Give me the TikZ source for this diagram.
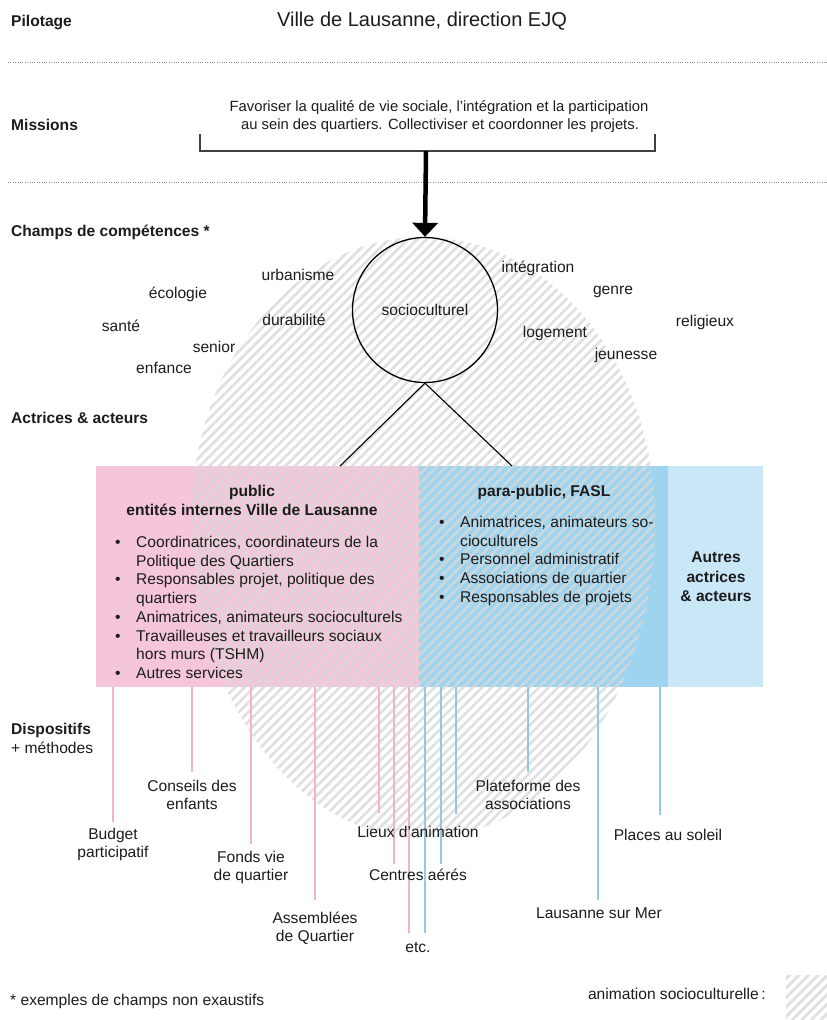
\documentclass[tikz,border=0pt]{standalone}
\usepackage{fontspec}
\setmainfont{Liberation Sans}
\usetikzlibrary{arrows.meta}
\definecolor{pinkc}{RGB}{245,198,219}
\definecolor{bluec}{RGB}{158,212,240}
\definecolor{lblue}{RGB}{202,231,248}
\definecolor{pinkl}{RGB}{240,180,205}
\definecolor{bluel}{RGB}{148,200,228}
\definecolor{hatchc}{RGB}{216,216,216}
\definecolor{txt}{RGB}{28,28,28}
\newcommand\bul{\makebox[21pt][l]{•}}
\newcommand\ind{\hspace*{21pt}}
\begin{document}
\begin{tikzpicture}[x=1pt,y=-1pt,
  font=\fontsize{15.6}{18.7}\selectfont,
  every node/.style={text=txt, inner sep=0},
  lbl/.style={anchor=west, font=\fontsize{15.6}{18.7}\selectfont\bfseries},
  ttl/.style={font=\fontsize{15.6}{18.7}\selectfont\bfseries},
  lab2/.style={anchor=north, align=center, font=\fontsize{15.6}{18.3}\selectfont},
  lst/.style={anchor=north west, align=left},
  pinkln/.style={draw=pinkl, line width=1.8},
  blueln/.style={draw=bluel, line width=1.8},
  hatchln/.style={draw=hatchc, line width=2.8, draw opacity=0.8},
  dotln/.style={draw=black!45, line width=0.6, dash pattern=on 0.8pt off 1.6pt},
  boxfill/.style={anchor=north west, minimum height=221, draw=none}]
\useasboundingbox (0,0) rectangle (827,1020);

% dotted separators
\draw[dotln] (8,62) -- (827,62);
\draw[dotln] (8,182) -- (827,182);

% coloured boxes
\node[boxfill, fill=pinkc, minimum width=323] (pub) at (96,466) {};
\node[boxfill, fill=bluec, minimum width=249] (para) at (419,466) {};
\node[boxfill, fill=lblue, minimum width=95] (autres) at (668,466) {};

% hatched egg-shaped area (animation socioculturelle)
\begin{scope}
  \clip (191,520) arc[start angle=180, end angle=360, x radius=232, y radius=283]
                  arc[start angle=0, end angle=180, x radius=232, y radius=318] -- cycle;
  \foreach \c in {0,...,120} \draw[hatchln] ({400+\c*9.5-850},850) -- ++(630,-630);
\end{scope}
% legend square
\begin{scope}
  \clip (786,975) rectangle (827,1020);
  \foreach \c in {0,...,10} \draw[hatchln] ({1755+\c*9.5-1020},1020) -- ++(70,-70);
\end{scope}

% vertical connectors (dispositifs)
\coordinate (p1) at (113,822);
\coordinate (p2) at (192,772);
\coordinate (p3) at (251,844);
\coordinate (p4) at (315,900);
\coordinate (p5) at (379,813);
\coordinate (p6) at (394,864);
\coordinate (p7) at (409,933);
\coordinate (b1) at (425,933);
\coordinate (b2) at (441,864);
\coordinate (b3) at (456,814);
\coordinate (b4) at (528,772);
\coordinate (b5) at (598,900);
\coordinate (b6) at (660,815);
\foreach \p in {p1,p2,p3,p4,p5,p6,p7} \draw[pinkln] (\p |- pub.south) -- (\p);
\foreach \p in {b1,b2,b3,b4,b5,b6} \draw[blueln] (\p |- para.south) -- (\p);

% header
\node[lbl] (pil) at (11,22) {Pilotage};
\node[font=\fontsize{20}{24}\selectfont] (title) at (422,21) {Ville de Lausanne, direction EJQ};

% missions
\node[lbl] (mis) at (11,125) {Missions};
\node[font=\fontsize{14.8}{17.5}\selectfont] (mis1) at (439,108) {Favoriser la qualité de vie sociale, l'intégration et la participation};
\node[font=\fontsize{14.8}{17.5}\selectfont] (mis2) at (440,126) {au sein des quartiers. Collectiviser et coordonner les projets.};
\draw[line width=1.4, draw=black!75] (200,134) -- (200,151) -- (655,151) -- (655,134);
\coordinate (mb) at (426,151);

% champs de compétences
\node[lbl] (cha) at (11,232) {Champs de compétences *};
\node[draw, circle, line width=1.3, minimum size=145] (socio) at (425,310) {socioculturel};
\draw[line width=4.5, -{Triangle[width=25pt,length=14pt]}] (mb) -- (socio.north);

\node (urb) at (298,275) {urbanisme};
\node (eco) at (178,294) {écologie};
\node (san) at (121,326) {santé};
\node (dur) at (294,320) {durabilité};
\node (sen) at (214,347) {senior};
\node (enf) at (164,368) {enfance};
\node (int) at (538,268) {intégration};
\node (gen) at (613,292) {genre};
\node (rel) at (705,322) {religieux};
\node (log) at (555,333) {logement};
\node (jeu) at (626,355) {jeunesse};

% actrices & acteurs
\node[lbl] (act) at (11,418) {Actrices \& acteurs};
\coordinate (pa) at (340,466);
\coordinate (pb) at (512,466);
\draw[line width=1.1] (socio.south) -- (pa);
\draw[line width=1.1] (socio.south) -- (pb);

\node[ttl] (pubt1) at (252,492) {public};
\node[ttl] (pubt2) at (252,510) {entités internes Ville de Lausanne};
\node[lst] (publ) at (115,536) {\bul Coordinatrices, coordinateurs de la\\
\ind Politique des Quartiers\\
\bul Responsables projet, politique des\\
\ind quartiers\\
\bul Animatrices, animateurs socioculturels\\
\bul Travailleuses et travailleurs sociaux\\
\ind hors murs (TSHM)\\
\bul Autres services};

\node[ttl] (parat) at (544,492) {para-public, FASL};
\node[lst] (paral) at (439,516) {\bul Animatrices, animateurs so-\\
\ind cioculturels\\
\bul Personnel administratif\\
\bul Associations de quartier\\
\bul Responsables de projets};

\node[anchor=north, align=center, font=\fontsize{15.6}{19.5}\selectfont\bfseries] (autt) at (716,552) {Autres\\actrices\\\& acteurs};

% dispositifs + méthodes
\node[lbl] (dis) at (11,730) {Dispositifs};
\node[anchor=west] (met) at (11,748) {+ méthodes};

\node[lab2] (bud) at (113,828) {Budget\\participatif};
\node[lab2] (con) at (192,780) {Conseils des\\enfants};
\node[lab2] (fon) at (251,851) {Fonds vie\\de quartier};
\node[lab2] (ass) at (315,912) {Assemblées\\de Quartier};
\node (lie) at (418,832) {Lieux d'animation};
\node (cen) at (418,875) {Centres aérés};
\node (etc) at (418,948) {etc.};
\node[lab2] (pla) at (528,780) {Plateforme des\\associations};
\node (sol) at (668,835) {Places au soleil};
\node (mer) at (599,913) {Lausanne sur Mer};

% footer
\node[anchor=west] (foot) at (10,1001) {* exemples de champs non exaustifs};
\node[anchor=east] (leg) at (766,994) {animation socioculturelle\,:};
\end{tikzpicture}
\end{document}
